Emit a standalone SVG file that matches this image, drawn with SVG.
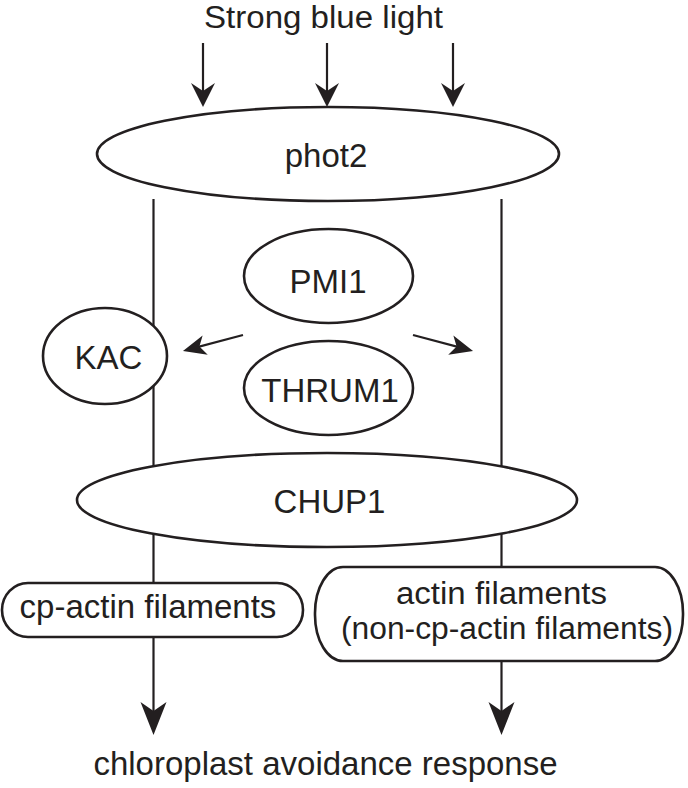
<svg xmlns="http://www.w3.org/2000/svg" width="688" height="788" viewBox="0 0 688 788">
<style>
.t{font-family:"Liberation Sans",Arial,Helvetica,sans-serif;font-size:33px;fill:#231f20;text-anchor:middle}
.s{font-size:31px}
.n{fill:#fff;stroke:#231f20;stroke-width:2.6}
.c{fill:none;stroke:#231f20;stroke-width:2.2}
</style>
<defs>
<marker id="big" markerUnits="userSpaceOnUse" viewBox="-20 -15 36 30" markerWidth="36" markerHeight="30" refX="0" refY="0" orient="auto">
<path d="M15,0 L-18,-13 L-9,0 L-18,13 Z" fill="#231f20"/>
</marker>
<marker id="top" markerUnits="userSpaceOnUse" viewBox="-14 -14 28 28" markerWidth="28" markerHeight="28" refX="0" refY="0" orient="auto">
<path d="M10,0 L-14,-12 L-6,0 L-14,12 Z" fill="#231f20"/>
</marker>
<marker id="mid" markerUnits="userSpaceOnUse" viewBox="-16 -12 28 24" markerWidth="28" markerHeight="24" refX="0" refY="0" orient="auto">
<path d="M8,0 L-15,-10 L-9,0 L-15,10 Z" fill="#231f20"/>
</marker>
</defs>
<rect width="688" height="788" fill="#fff"/>
<g id="connectors">
<line class="c" x1="203" y1="43" x2="203" y2="97" marker-end="url(#top)"/>
<line class="c" x1="327" y1="43" x2="327" y2="97" marker-end="url(#top)"/>
<line class="c" x1="453" y1="43" x2="453" y2="97" marker-end="url(#top)"/>
<line class="c" x1="153.5" y1="199" x2="153.5" y2="720" marker-end="url(#big)"/>
<line class="c" x1="501.5" y1="199" x2="501.5" y2="720" marker-end="url(#big)"/>
<line class="c" x1="243" y1="335" x2="190.7" y2="348.9" marker-end="url(#mid)"/>
<line class="c" x1="413" y1="335" x2="465.3" y2="348.9" marker-end="url(#mid)"/>
</g>
<g id="light"><text class="t s" x="323.5" y="28" textLength="239" lengthAdjust="spacingAndGlyphs">Strong blue light</text></g>
<g id="phot2"><ellipse class="n" cx="328" cy="154" rx="231" ry="47"/><text class="t" x="326" y="167">phot2</text></g>
<g id="PMI1"><ellipse class="n" cx="328.5" cy="276" rx="84.5" ry="47"/><text class="t" x="328" y="293">PMI1</text></g>
<g id="THRUM1"><ellipse class="n" cx="328.5" cy="388" rx="84.5" ry="47"/><text class="t" x="330" y="402">THRUM1</text></g>
<g id="KAC"><ellipse class="n" cx="105" cy="356" rx="62" ry="48"/><text class="t" x="108.5" y="369">KAC</text></g>
<g id="CHUP1"><ellipse class="n" cx="327" cy="500" rx="250" ry="47"/><text class="t" x="329.5" y="513">CHUP1</text></g>
<g id="cp-actin"><rect class="n" x="2" y="583" width="301" height="54" rx="26" ry="27"/><text class="t" x="148" y="618">cp-actin filaments</text></g>
<g id="actin"><rect class="n" x="315" y="567" width="368" height="94" rx="28" ry="46"/><text class="t s" x="501.5" y="604" textLength="211" lengthAdjust="spacingAndGlyphs">actin filaments</text><text class="t s" x="507" y="639" textLength="332" lengthAdjust="spacingAndGlyphs">(non-cp-actin filaments)</text></g>
<g id="response"><text class="t" x="325.5" y="775">chloroplast avoidance response</text></g>
</svg>
